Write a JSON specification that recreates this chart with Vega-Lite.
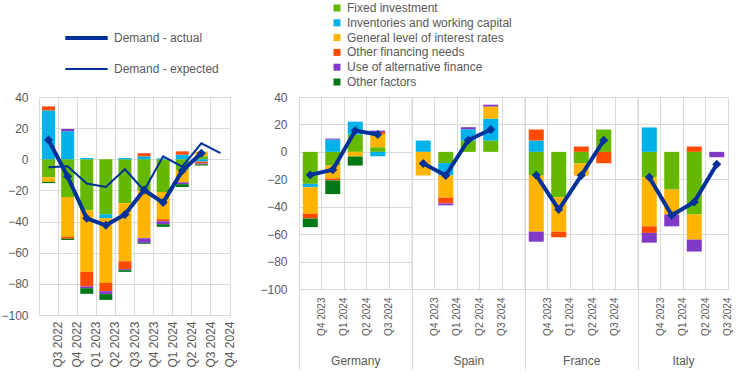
{
  "$schema": "https://vega.github.io/schema/vega-lite/v6.json",
  "background": "white",
  "padding": {"left": 0, "top": 2, "right": 0, "bottom": 0},
  "config": {
    "font": "Liberation Sans",
    "view": {"stroke": "#d9d9d9"},
    "axis": {"labelFont": "Liberation Sans", "labelFontSize": 12, "labelColor": "#595959", "gridColor": "#d9d9d9", "domain": false, "ticks": false, "titleFont": "Liberation Sans", "titleFontWeight": "normal", "titleColor": "#595959", "titleFontSize": 12, "labelOverlap": false},
    "axisY": {"labelOverlap": false, "labelSeparation": 0, "labelBound": false, "labelFlush": false},
    "legend": {"labelFont": "Liberation Sans", "labelFontSize": 12, "labelColor": "#595959", "labelLimit": 400}
  },
  "datasets": {
    "left_bars": [
      {"q": "Q3 2022", "factor": "Fixed investment", "value": -11.5},
      {"q": "Q3 2022", "factor": "Inventories and working capital", "value": 31.4},
      {"q": "Q3 2022", "factor": "General level of interest rates", "value": -3.0},
      {"q": "Q3 2022", "factor": "Other financing needs", "value": 2.6},
      {"q": "Q3 2022", "factor": "Other factors", "value": -0.8},
      {"q": "Q4 2022", "factor": "Fixed investment", "value": -24.2},
      {"q": "Q4 2022", "factor": "Inventories and working capital", "value": 18.0},
      {"q": "Q4 2022", "factor": "General level of interest rates", "value": -25.6},
      {"q": "Q4 2022", "factor": "Other financing needs", "value": -1.3},
      {"q": "Q4 2022", "factor": "Use of alternative finance", "value": 1.5},
      {"q": "Q4 2022", "factor": "Other factors", "value": -0.7},
      {"q": "Q1 2023", "factor": "Fixed investment", "value": -32.7},
      {"q": "Q1 2023", "factor": "Inventories and working capital", "value": 0.8},
      {"q": "Q1 2023", "factor": "General level of interest rates", "value": -39.6},
      {"q": "Q1 2023", "factor": "Other financing needs", "value": -9.4},
      {"q": "Q1 2023", "factor": "Use of alternative finance", "value": -1.1},
      {"q": "Q1 2023", "factor": "Other factors", "value": -3.6},
      {"q": "Q2 2023", "factor": "Fixed investment", "value": -35.3},
      {"q": "Q2 2023", "factor": "Inventories and working capital", "value": -2.6},
      {"q": "Q2 2023", "factor": "General level of interest rates", "value": -41.5},
      {"q": "Q2 2023", "factor": "Other financing needs", "value": -5.3},
      {"q": "Q2 2023", "factor": "Use of alternative finance", "value": -1.9},
      {"q": "Q2 2023", "factor": "Other factors", "value": -3.7},
      {"q": "Q3 2023", "factor": "Fixed investment", "value": -28.2},
      {"q": "Q3 2023", "factor": "Inventories and working capital", "value": 0.8},
      {"q": "Q3 2023", "factor": "General level of interest rates", "value": -37.3},
      {"q": "Q3 2023", "factor": "Other financing needs", "value": -5.1},
      {"q": "Q3 2023", "factor": "Use of alternative finance", "value": -0.6},
      {"q": "Q3 2023", "factor": "Other factors", "value": -1.1},
      {"q": "Q4 2023", "factor": "Fixed investment", "value": -20.1},
      {"q": "Q4 2023", "factor": "Inventories and working capital", "value": 1.9},
      {"q": "Q4 2023", "factor": "General level of interest rates", "value": -30.6},
      {"q": "Q4 2023", "factor": "Other financing needs", "value": 2.0},
      {"q": "Q4 2023", "factor": "Use of alternative finance", "value": -3.0},
      {"q": "Q4 2023", "factor": "Other factors", "value": -0.6},
      {"q": "Q1 2024", "factor": "Fixed investment", "value": -21.0},
      {"q": "Q1 2024", "factor": "Inventories and working capital", "value": 0.6},
      {"q": "Q1 2024", "factor": "General level of interest rates", "value": -17.5},
      {"q": "Q1 2024", "factor": "Other financing needs", "value": -1.3},
      {"q": "Q1 2024", "factor": "Use of alternative finance", "value": -1.9},
      {"q": "Q1 2024", "factor": "Other factors", "value": -1.7},
      {"q": "Q2 2024", "factor": "Fixed investment", "value": -7.0},
      {"q": "Q2 2024", "factor": "Inventories and working capital", "value": 3.0},
      {"q": "Q2 2024", "factor": "General level of interest rates", "value": -7.8},
      {"q": "Q2 2024", "factor": "Other financing needs", "value": 2.1},
      {"q": "Q2 2024", "factor": "Use of alternative finance", "value": -1.2},
      {"q": "Q2 2024", "factor": "Other factors", "value": -1.8},
      {"q": "Q3 2024", "factor": "Fixed investment", "value": 2.0},
      {"q": "Q3 2024", "factor": "Inventories and working capital", "value": -1.5},
      {"q": "Q3 2024", "factor": "General level of interest rates", "value": 3.0},
      {"q": "Q3 2024", "factor": "Other financing needs", "value": -1.2},
      {"q": "Q3 2024", "factor": "Use of alternative finance", "value": -0.5},
      {"q": "Q3 2024", "factor": "Other factors", "value": -0.8}
    ],
    "left_lines": [
      {"q": "Q3 2022", "series": "Demand - actual", "value": 12.4},
      {"q": "Q4 2022", "series": "Demand - actual", "value": -11.1},
      {"q": "Q1 2023", "series": "Demand - actual", "value": -37.9},
      {"q": "Q2 2023", "series": "Demand - actual", "value": -42.4},
      {"q": "Q3 2023", "series": "Demand - actual", "value": -35.5},
      {"q": "Q4 2023", "series": "Demand - actual", "value": -19.7},
      {"q": "Q1 2024", "series": "Demand - actual", "value": -27.8},
      {"q": "Q2 2024", "series": "Demand - actual", "value": -7.3},
      {"q": "Q3 2024", "series": "Demand - actual", "value": 3.9},
      {"q": "Q3 2022", "series": "Demand - expected", "value": -5.1},
      {"q": "Q4 2022", "series": "Demand - expected", "value": -4.5},
      {"q": "Q1 2023", "series": "Demand - expected", "value": -15.6},
      {"q": "Q2 2023", "series": "Demand - expected", "value": -17.8},
      {"q": "Q3 2023", "series": "Demand - expected", "value": -6.4},
      {"q": "Q4 2023", "series": "Demand - expected", "value": -20.0},
      {"q": "Q1 2024", "series": "Demand - expected", "value": 1.9},
      {"q": "Q2 2024", "series": "Demand - expected", "value": -4.7},
      {"q": "Q3 2024", "series": "Demand - expected", "value": 10.3},
      {"q": "Q4 2024", "series": "Demand - expected", "value": 3.9}
    ],
    "right_bars": [
      {"country": "Germany", "q": "Q4 2023", "factor": "Fixed investment", "value": -23.3},
      {"country": "Germany", "q": "Q4 2023", "factor": "Inventories and working capital", "value": -2.5},
      {"country": "Germany", "q": "Q4 2023", "factor": "General level of interest rates", "value": -19.2},
      {"country": "Germany", "q": "Q4 2023", "factor": "Other financing needs", "value": -3.6},
      {"country": "Germany", "q": "Q4 2023", "factor": "Other factors", "value": -6.3},
      {"country": "Germany", "q": "Q1 2024", "factor": "Fixed investment", "value": -10.0},
      {"country": "Germany", "q": "Q1 2024", "factor": "Inventories and working capital", "value": 9.0},
      {"country": "Germany", "q": "Q1 2024", "factor": "General level of interest rates", "value": -9.4},
      {"country": "Germany", "q": "Q1 2024", "factor": "Other financing needs", "value": -1.4},
      {"country": "Germany", "q": "Q1 2024", "factor": "Use of alternative finance", "value": 0.7},
      {"country": "Germany", "q": "Q1 2024", "factor": "Other factors", "value": -10.0},
      {"country": "Germany", "q": "Q2 2024", "factor": "Fixed investment", "value": 12.6},
      {"country": "Germany", "q": "Q2 2024", "factor": "Inventories and working capital", "value": 9.4},
      {"country": "Germany", "q": "Q2 2024", "factor": "General level of interest rates", "value": -3.4},
      {"country": "Germany", "q": "Q2 2024", "factor": "Other factors", "value": -6.6},
      {"country": "Germany", "q": "Q3 2024", "factor": "Fixed investment", "value": 3.4},
      {"country": "Germany", "q": "Q3 2024", "factor": "Inventories and working capital", "value": -3.2},
      {"country": "Germany", "q": "Q3 2024", "factor": "General level of interest rates", "value": 9.7},
      {"country": "Germany", "q": "Q3 2024", "factor": "Other financing needs", "value": 1.4},
      {"country": "Germany", "q": "Q3 2024", "factor": "Use of alternative finance", "value": 1.0},
      {"country": "Spain", "q": "Q4 2023", "factor": "Inventories and working capital", "value": 8.2},
      {"country": "Spain", "q": "Q4 2023", "factor": "General level of interest rates", "value": -17.2},
      {"country": "Spain", "q": "Q1 2024", "factor": "Fixed investment", "value": -8.2},
      {"country": "Spain", "q": "Q1 2024", "factor": "Inventories and working capital", "value": -9.0},
      {"country": "Spain", "q": "Q1 2024", "factor": "General level of interest rates", "value": -16.1},
      {"country": "Spain", "q": "Q1 2024", "factor": "Other financing needs", "value": -4.3},
      {"country": "Spain", "q": "Q1 2024", "factor": "Use of alternative finance", "value": -1.4},
      {"country": "Spain", "q": "Q2 2024", "factor": "Fixed investment", "value": 8.2},
      {"country": "Spain", "q": "Q2 2024", "factor": "Inventories and working capital", "value": 8.3},
      {"country": "Spain", "q": "Q2 2024", "factor": "Use of alternative finance", "value": 1.5},
      {"country": "Spain", "q": "Q3 2024", "factor": "Fixed investment", "value": 8.2},
      {"country": "Spain", "q": "Q3 2024", "factor": "Inventories and working capital", "value": 16.0},
      {"country": "Spain", "q": "Q3 2024", "factor": "General level of interest rates", "value": 8.8},
      {"country": "Spain", "q": "Q3 2024", "factor": "Use of alternative finance", "value": 1.4},
      {"country": "France", "q": "Q4 2023", "factor": "Fixed investment", "value": -17.3},
      {"country": "France", "q": "Q4 2023", "factor": "Inventories and working capital", "value": 8.3},
      {"country": "France", "q": "Q4 2023", "factor": "General level of interest rates", "value": -40.9},
      {"country": "France", "q": "Q4 2023", "factor": "Other financing needs", "value": 8.0},
      {"country": "France", "q": "Q4 2023", "factor": "Use of alternative finance", "value": -7.3},
      {"country": "France", "q": "Q1 2024", "factor": "Fixed investment", "value": -33.1},
      {"country": "France", "q": "Q1 2024", "factor": "General level of interest rates", "value": -25.1},
      {"country": "France", "q": "Q1 2024", "factor": "Other financing needs", "value": -4.1},
      {"country": "France", "q": "Q2 2024", "factor": "Fixed investment", "value": -8.5},
      {"country": "France", "q": "Q2 2024", "factor": "General level of interest rates", "value": -8.8},
      {"country": "France", "q": "Q2 2024", "factor": "Other financing needs", "value": 3.9},
      {"country": "France", "q": "Q3 2024", "factor": "Fixed investment", "value": 16.3},
      {"country": "France", "q": "Q3 2024", "factor": "Other financing needs", "value": -8.3},
      {"country": "Italy", "q": "Q4 2023", "factor": "Fixed investment", "value": -18.5},
      {"country": "Italy", "q": "Q4 2023", "factor": "Inventories and working capital", "value": 17.8},
      {"country": "Italy", "q": "Q4 2023", "factor": "General level of interest rates", "value": -35.8},
      {"country": "Italy", "q": "Q4 2023", "factor": "Other financing needs", "value": -4.8},
      {"country": "Italy", "q": "Q4 2023", "factor": "Use of alternative finance", "value": -7.1},
      {"country": "Italy", "q": "Q1 2024", "factor": "Fixed investment", "value": -27.5},
      {"country": "Italy", "q": "Q1 2024", "factor": "General level of interest rates", "value": -18.2},
      {"country": "Italy", "q": "Q1 2024", "factor": "Use of alternative finance", "value": -8.6},
      {"country": "Italy", "q": "Q2 2024", "factor": "Fixed investment", "value": -45.7},
      {"country": "Italy", "q": "Q2 2024", "factor": "General level of interest rates", "value": -18.3},
      {"country": "Italy", "q": "Q2 2024", "factor": "Other financing needs", "value": 3.9},
      {"country": "Italy", "q": "Q2 2024", "factor": "Use of alternative finance", "value": -8.7},
      {"country": "Italy", "q": "Q3 2024", "factor": "Use of alternative finance", "value": -3.9}
    ],
    "right_lines": [
      {"country": "Germany", "q": "Q4 2023", "value": -16.8},
      {"country": "Germany", "q": "Q1 2024", "value": -13.1},
      {"country": "Germany", "q": "Q2 2024", "value": 15.5},
      {"country": "Germany", "q": "Q3 2024", "value": 12.6},
      {"country": "Spain", "q": "Q4 2023", "value": -8.5},
      {"country": "Spain", "q": "Q1 2024", "value": -17.2},
      {"country": "Spain", "q": "Q2 2024", "value": 8.5},
      {"country": "Spain", "q": "Q3 2024", "value": 16.3},
      {"country": "France", "q": "Q4 2023", "value": -17.0},
      {"country": "France", "q": "Q1 2024", "value": -42.1},
      {"country": "France", "q": "Q2 2024", "value": -17.3},
      {"country": "France", "q": "Q3 2024", "value": 8.5},
      {"country": "Italy", "q": "Q4 2023", "value": -18.5},
      {"country": "Italy", "q": "Q1 2024", "value": -46.2},
      {"country": "Italy", "q": "Q2 2024", "value": -36.5},
      {"country": "Italy", "q": "Q3 2024", "value": -9.0}
    ]
  },
  "bounds": "flush",
  "spacing": 69,
  "hconcat": [
    {
      "width": 191,
      "height": 218,
      "layer": [
        {
          "data": {"name": "left_bars"},
          "transform": [{"calculate": "indexof(['Fixed investment','Inventories and working capital','General level of interest rates','Other financing needs','Use of alternative finance','Other factors'], datum.factor)", "as": "ord"}],
          "mark": {"type": "bar", "width": {"band": 0.68}},
          "encoding": {
            "x": {"field": "q", "type": "nominal", "scale": {"domain": ["Q3 2022","Q4 2022","Q1 2023","Q2 2023","Q3 2023","Q4 2023","Q1 2024","Q2 2024","Q3 2024","Q4 2024"], "paddingInner": 0, "paddingOuter": 0},
                  "axis": {"title": null, "labelAngle": -90, "bandPosition": 0, "labelOffset": 9.55, "labelPadding": 6, "grid": true}},
            "y": {"field": "value", "type": "quantitative", "stack": "zero", "scale": {"domain": [-100, 40]},
                  "axis": {"title": null, "values": [-100,-80,-60,-40,-20,0,20,40], "tickCount": 8, "labelOverlap": false, "labelPadding": 11, "grid": true}},
            "color": {"field": "factor", "type": "nominal",
                      "scale": {"domain": ["Fixed investment","Inventories and working capital","General level of interest rates","Other financing needs","Use of alternative finance","Other factors"], "range": ["#65b800","#00b1ea","#ffb400","#ff4b00","#8139c7","#007816"]},
                      "legend": {"orient": "none", "legendX": 292, "legendY": -95, "title": null, "symbolType": "square", "symbolSize": 49, "symbolStrokeWidth": 0, "labelOffset": 4, "rowPadding": 2.8}},
            "order": {"field": "ord", "type": "quantitative"}
          }
        },
        {
          "data": {"name": "left_lines"},
          "mark": {"type": "line", "color": "#003299"},
          "encoding": {
            "x": {"field": "q", "type": "nominal", "scale": {"domain": ["Q3 2022","Q4 2022","Q1 2023","Q2 2023","Q3 2023","Q4 2023","Q1 2024","Q2 2024","Q3 2024","Q4 2024"]}},
            "y": {"field": "value", "type": "quantitative", "axis": {"title": null, "values": [-100,-80,-60,-40,-20,0,20,40], "tickCount": 8, "labelOverlap": false, "labelPadding": 11, "grid": true}},
            "strokeWidth": {"field": "series", "type": "nominal", "scale": {"domain": ["Demand - actual", "Demand - expected"], "range": [4, 2]},
                            "legend": {"orient": "none", "legendX": 24, "legendY": -82.5, "title": null, "symbolType": "stroke", "symbolSize": 1800, "symbolStrokeColor": "#003299", "labelOffset": 4, "rowPadding": -16}}
          }
        },
        {
          "data": {"name": "left_lines"},
          "transform": [{"filter": "datum.series === 'Demand - actual'"}],
          "mark": {"type": "point", "shape": "diamond", "filled": true, "color": "#003299", "size": 80, "opacity": 1},
          "encoding": {
            "x": {"field": "q", "type": "nominal", "scale": {"domain": ["Q3 2022","Q4 2022","Q1 2023","Q2 2023","Q3 2023","Q4 2023","Q1 2024","Q2 2024","Q3 2024","Q4 2024"]}},
            "y": {"field": "value", "type": "quantitative", "axis": {"title": null, "values": [-100,-80,-60,-40,-20,0,20,40], "tickCount": 8, "labelOverlap": false, "labelPadding": 11, "grid": true}}
          }
        }
      ]
    },
    {
      "spacing": 0,
      "bounds": "flush",
      "hconcat": [
        {
          "width": 112.5, "height": 192,
          "layer": [
            {
              "data": {"name": "right_bars"},
              "transform": [{"filter": "datum.country === 'Germany'"}, {"calculate": "indexof(['Fixed investment','Inventories and working capital','General level of interest rates','Other financing needs','Use of alternative finance','Other factors'], datum.factor)", "as": "ord"}],
              "mark": {"type": "bar", "width": {"band": 0.667}},
              "encoding": {
                "x": {"field": "q", "type": "nominal", "scale": {"domain": ["Q4 2023","Q1 2024","Q2 2024","Q3 2024","gap"], "paddingInner": 0, "paddingOuter": 0},
                      "axis": {"title": "Germany", "titleY": 71, "titleBaseline": "middle", "labelAngle": -90, "labelFontSize": 10, "bandPosition": 0, "labelOffset": 11.25, "ticks": true, "tickSize": 80, "tickColor": "#d9d9d9", "tickOpacity": {"condition": {"test": "datum.value === 'Q4 2023'", "value": 1}, "value": 0}, "labelPadding": -72, "labelExpr": "datum.value === 'gap' ? '' : datum.label", "grid": true}},
                "y": {"field": "value", "type": "quantitative", "stack": "zero", "scale": {"domain": [-100, 40]},
                      "axis": {"title": null, "values": [-100,-80,-60,-40,-20,0,20,40], "tickCount": 8, "labelOverlap": false, "labelPadding": 12, "grid": true}},
                "color": {"field": "factor", "type": "nominal",
                          "scale": {"domain": ["Fixed investment","Inventories and working capital","General level of interest rates","Other financing needs","Use of alternative finance","Other factors"], "range": ["#65b800","#00b1ea","#ffb400","#ff4b00","#8139c7","#007816"]},
                          "legend": {"orient": "none", "legendX": 292, "legendY": -95, "title": null, "symbolType": "square", "symbolSize": 49, "symbolStrokeWidth": 0, "labelOffset": 4, "rowPadding": 2.8}},
                "order": {"field": "ord", "type": "quantitative"}
              }
            },
            {
              "data": {"name": "right_lines"},
              "transform": [{"filter": "datum.country === 'Germany'"}],
              "mark": {"type": "line", "color": "#003299", "strokeWidth": 4, "point": {"shape": "diamond", "filled": true, "size": 80, "color": "#003299"}},
              "encoding": {
                "x": {"field": "q", "type": "nominal", "scale": {"domain": ["Q4 2023","Q1 2024","Q2 2024","Q3 2024","gap"]}},
                "y": {"field": "value", "type": "quantitative", "axis": {"title": null, "values": [-100,-80,-60,-40,-20,0,20,40], "tickCount": 8, "labelOverlap": false, "labelPadding": 12, "grid": true}}
              }
            }
          ]
        },
        {
          "width": 112.5, "height": 192,
          "layer": [
            {
              "data": {"name": "right_bars"},
              "transform": [{"filter": "datum.country === 'Spain'"}, {"calculate": "indexof(['Fixed investment','Inventories and working capital','General level of interest rates','Other financing needs','Use of alternative finance','Other factors'], datum.factor)", "as": "ord"}],
              "mark": {"type": "bar", "width": {"band": 0.667}},
              "encoding": {
                "x": {"field": "q", "type": "nominal", "scale": {"domain": ["Q4 2023","Q1 2024","Q2 2024","Q3 2024","gap"], "paddingInner": 0, "paddingOuter": 0},
                      "axis": {"title": "Spain", "titleY": 71, "titleBaseline": "middle", "labelAngle": -90, "labelFontSize": 10, "bandPosition": 0, "labelOffset": 11.25, "ticks": true, "tickSize": 80, "tickColor": "#d9d9d9", "tickOpacity": {"condition": {"test": "datum.value === 'Q4 2023'", "value": 1}, "value": 0}, "labelPadding": -72, "labelExpr": "datum.value === 'gap' ? '' : datum.label", "grid": true}},
                "y": {"field": "value", "type": "quantitative", "stack": "zero", "scale": {"domain": [-100, 40]},
                      "axis": {"title": null, "values": [-100,-80,-60,-40,-20,0,20,40], "labels": false, "minExtent": 0, "maxExtent": 0, "grid": true}},
                "color": {"field": "factor", "type": "nominal",
                          "scale": {"domain": ["Fixed investment","Inventories and working capital","General level of interest rates","Other financing needs","Use of alternative finance","Other factors"], "range": ["#65b800","#00b1ea","#ffb400","#ff4b00","#8139c7","#007816"]},
                          "legend": {"orient": "none", "legendX": 292, "legendY": -95, "title": null, "symbolType": "square", "symbolSize": 49, "symbolStrokeWidth": 0, "labelOffset": 4, "rowPadding": 2.8}},
                "order": {"field": "ord", "type": "quantitative"}
              }
            },
            {
              "data": {"name": "right_lines"},
              "transform": [{"filter": "datum.country === 'Spain'"}],
              "mark": {"type": "line", "color": "#003299", "strokeWidth": 4, "point": {"shape": "diamond", "filled": true, "size": 80, "color": "#003299"}},
              "encoding": {
                "x": {"field": "q", "type": "nominal", "scale": {"domain": ["Q4 2023","Q1 2024","Q2 2024","Q3 2024","gap"]}},
                "y": {"field": "value", "type": "quantitative"}
              }
            }
          ]
        },
        {
          "width": 112.5, "height": 192,
          "layer": [
            {
              "data": {"name": "right_bars"},
              "transform": [{"filter": "datum.country === 'France'"}, {"calculate": "indexof(['Fixed investment','Inventories and working capital','General level of interest rates','Other financing needs','Use of alternative finance','Other factors'], datum.factor)", "as": "ord"}],
              "mark": {"type": "bar", "width": {"band": 0.667}},
              "encoding": {
                "x": {"field": "q", "type": "nominal", "scale": {"domain": ["Q4 2023","Q1 2024","Q2 2024","Q3 2024","gap"], "paddingInner": 0, "paddingOuter": 0},
                      "axis": {"title": "France", "titleY": 71, "titleBaseline": "middle", "labelAngle": -90, "labelFontSize": 10, "bandPosition": 0, "labelOffset": 11.25, "ticks": true, "tickSize": 80, "tickColor": "#d9d9d9", "tickOpacity": {"condition": {"test": "datum.value === 'Q4 2023'", "value": 1}, "value": 0}, "labelPadding": -72, "labelExpr": "datum.value === 'gap' ? '' : datum.label", "grid": true}},
                "y": {"field": "value", "type": "quantitative", "stack": "zero", "scale": {"domain": [-100, 40]},
                      "axis": {"title": null, "values": [-100,-80,-60,-40,-20,0,20,40], "labels": false, "minExtent": 0, "maxExtent": 0, "grid": true}},
                "color": {"field": "factor", "type": "nominal",
                          "scale": {"domain": ["Fixed investment","Inventories and working capital","General level of interest rates","Other financing needs","Use of alternative finance","Other factors"], "range": ["#65b800","#00b1ea","#ffb400","#ff4b00","#8139c7","#007816"]},
                          "legend": {"orient": "none", "legendX": 292, "legendY": -95, "title": null, "symbolType": "square", "symbolSize": 49, "symbolStrokeWidth": 0, "labelOffset": 4, "rowPadding": 2.8}},
                "order": {"field": "ord", "type": "quantitative"}
              }
            },
            {
              "data": {"name": "right_lines"},
              "transform": [{"filter": "datum.country === 'France'"}],
              "mark": {"type": "line", "color": "#003299", "strokeWidth": 4, "point": {"shape": "diamond", "filled": true, "size": 80, "color": "#003299"}},
              "encoding": {
                "x": {"field": "q", "type": "nominal", "scale": {"domain": ["Q4 2023","Q1 2024","Q2 2024","Q3 2024","gap"]}},
                "y": {"field": "value", "type": "quantitative"}
              }
            }
          ]
        },
        {
          "width": 90, "height": 192,
          "layer": [
            {
              "data": {"name": "right_bars"},
              "transform": [{"filter": "datum.country === 'Italy'"}, {"calculate": "indexof(['Fixed investment','Inventories and working capital','General level of interest rates','Other financing needs','Use of alternative finance','Other factors'], datum.factor)", "as": "ord"}],
              "mark": {"type": "bar", "width": {"band": 0.667}},
              "encoding": {
                "x": {"field": "q", "type": "nominal", "scale": {"domain": ["Q4 2023","Q1 2024","Q2 2024","Q3 2024"], "paddingInner": 0, "paddingOuter": 0},
                      "axis": {"title": "Italy", "titleY": 71, "titleBaseline": "middle", "labelAngle": -90, "labelFontSize": 10, "bandPosition": 0, "labelOffset": 11.25, "ticks": true, "tickSize": 80, "tickColor": "#d9d9d9", "tickOpacity": {"condition": {"test": "datum.value === 'Q4 2023'", "value": 1}, "value": 0}, "labelPadding": -72, "grid": true}},
                "y": {"field": "value", "type": "quantitative", "stack": "zero", "scale": {"domain": [-100, 40]},
                      "axis": {"title": null, "values": [-100,-80,-60,-40,-20,0,20,40], "labels": false, "minExtent": 0, "maxExtent": 0, "grid": true}},
                "color": {"field": "factor", "type": "nominal",
                          "scale": {"domain": ["Fixed investment","Inventories and working capital","General level of interest rates","Other financing needs","Use of alternative finance","Other factors"], "range": ["#65b800","#00b1ea","#ffb400","#ff4b00","#8139c7","#007816"]},
                          "legend": {"orient": "none", "legendX": 292, "legendY": -95, "title": null, "symbolType": "square", "symbolSize": 49, "symbolStrokeWidth": 0, "labelOffset": 4, "rowPadding": 2.8}},
                "order": {"field": "ord", "type": "quantitative"}
              }
            },
            {
              "data": {"name": "right_lines"},
              "transform": [{"filter": "datum.country === 'Italy'"}],
              "mark": {"type": "line", "color": "#003299", "strokeWidth": 4, "point": {"shape": "diamond", "filled": true, "size": 80, "color": "#003299"}},
              "encoding": {
                "x": {"field": "q", "type": "nominal", "scale": {"domain": ["Q4 2023","Q1 2024","Q2 2024","Q3 2024"]}},
                "y": {"field": "value", "type": "quantitative"}
              }
            }
          ]
        }
      ]
    }
  ]
}
